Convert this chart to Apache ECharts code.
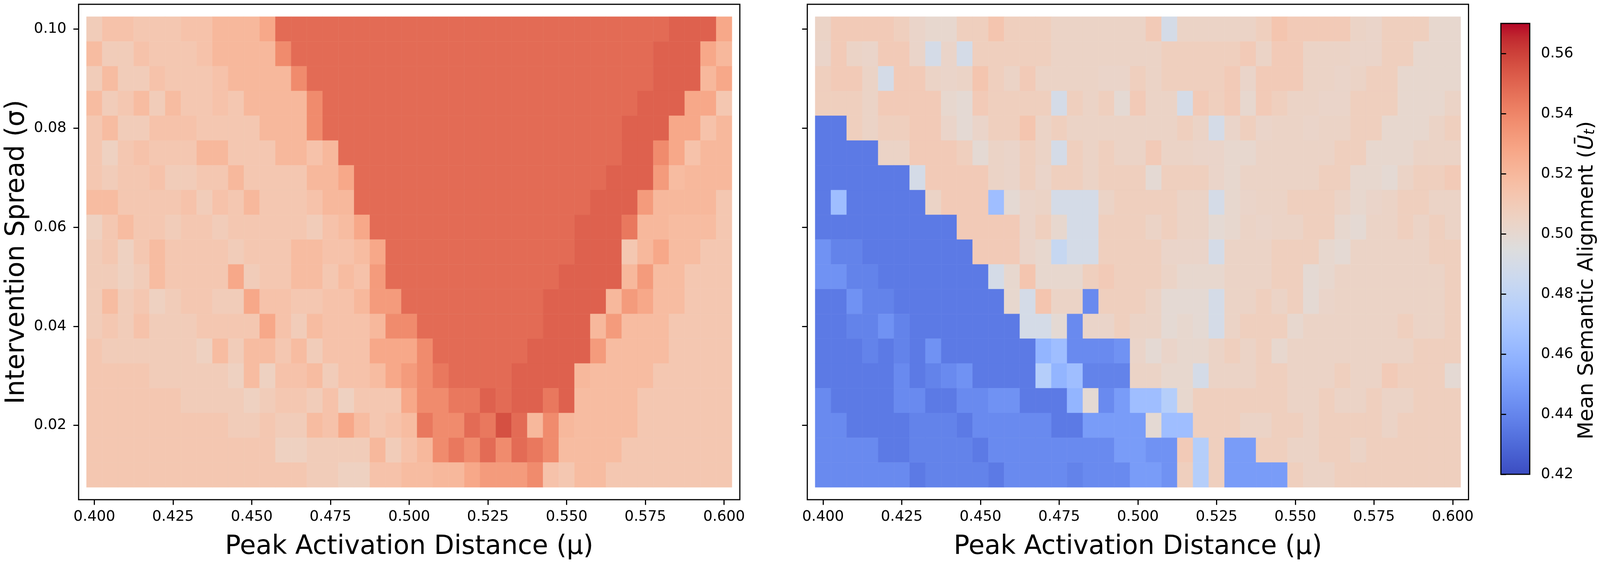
<!DOCTYPE html>
<html>
<head>
    <meta charset="UTF-8">
    <title>Mean Semantic Alignment</title>
    <script type="text/javascript" src="https://cdn.jsdelivr.net/npm/echarts@6/dist/echarts.min.js"></script>
    <style>html, body { margin: 0; padding: 0; background: #ffffff; overflow: hidden; }</style>
</head>
<body>
    <div id="alignment_chart" style="width:100vw; height:100vh;"></div>
    <script>
        // Peak activation distance (columns) and intervention spread (rows, listed top to bottom)
        var muValues = [0.400, 0.405, 0.410, 0.415, 0.420, 0.425, 0.430, 0.435, 0.440, 0.445, 0.450,
            0.455, 0.460, 0.465, 0.470, 0.475, 0.480, 0.485, 0.490, 0.495, 0.500,
            0.505, 0.510, 0.515, 0.520, 0.525, 0.530, 0.535, 0.540, 0.545, 0.550,
            0.555, 0.560, 0.565, 0.570, 0.575, 0.580, 0.585, 0.590, 0.595, 0.600];
        var sigmaValues = [0.100, 0.095, 0.090, 0.085, 0.080, 0.075, 0.070, 0.065, 0.060, 0.055,
            0.050, 0.045, 0.040, 0.035, 0.030, 0.025, 0.020, 0.015, 0.010];

        var muTicks = [0.400, 0.425, 0.450, 0.475, 0.500, 0.525, 0.550, 0.575, 0.600];
        var sigmaTicks = [0.02, 0.04, 0.06, 0.08, 0.10];
        var colorbarTicks = [0.42, 0.44, 0.46, 0.48, 0.50, 0.52, 0.54, 0.56];

        // left panel, one row per sigma (0.100 at top)
        var leftAlignment = [
            [.509,.515,.515,.512,.512,.512,.515,.515,.520,.520,.520,.527,.548,.548, .548,.548,.548,.548,.548,.548,.548,.548,.548,.548,.548,.548,.548,.548, .548,.548,.548,.548,.548,.548,.548,.548,.548,.551,.551,.551,.527],
            [.518,.509,.509,.515,.512,.512,.512,.515,.520,.520,.520,.520,.538,.548, .548,.548,.548,.548,.548,.548,.548,.548,.548,.548,.548,.548,.548,.548, .548,.548,.548,.548,.548,.548,.548,.548,.551,.551,.551,.527,.520],
            [.509,.518,.509,.509,.515,.512,.512,.512,.515,.520,.520,.520,.520,.538, .548,.548,.548,.548,.548,.548,.548,.548,.548,.548,.548,.548,.548,.548, .548,.548,.548,.548,.548,.548,.548,.548,.551,.551,.551,.520,.527],
            [.518,.509,.512,.518,.509,.518,.512,.512,.515,.512,.520,.520,.520,.520, .538,.548,.548,.548,.548,.548,.548,.548,.548,.548,.548,.548,.548,.548, .548,.548,.548,.548,.548,.548,.548,.551,.551,.551,.527,.527,.512],
            [.512,.518,.509,.509,.515,.515,.515,.512,.512,.512,.512,.520,.520,.520, .538,.548,.548,.548,.548,.548,.548,.548,.548,.548,.548,.548,.548,.548, .548,.548,.548,.548,.548,.548,.551,.551,.551,.527,.527,.515,.520],
            [.512,.506,.512,.515,.512,.512,.512,.520,.520,.512,.512,.512,.520,.520, .515,.520,.548,.548,.548,.548,.548,.548,.548,.548,.548,.548,.548,.548, .548,.548,.548,.548,.548,.548,.551,.551,.538,.527,.515,.520,.520],
            [.512,.509,.512,.512,.515,.509,.509,.512,.512,.520,.512,.512,.512,.512, .520,.520,.527,.548,.548,.548,.548,.548,.548,.548,.548,.548,.548,.548, .548,.548,.548,.548,.548,.551,.551,.551,.532,.518,.520,.520,.520],
            [.518,.518,.512,.512,.512,.512,.515,.509,.515,.512,.520,.512,.512,.512, .515,.520,.520,.548,.548,.548,.548,.548,.548,.548,.548,.548,.548,.548, .548,.548,.548,.548,.551,.551,.551,.532,.520,.520,.520,.520,.512],
            [.506,.512,.518,.512,.512,.509,.512,.512,.509,.512,.512,.512,.512,.512, .509,.515,.518,.527,.548,.548,.548,.548,.548,.548,.548,.548,.548,.548, .548,.548,.548,.551,.551,.551,.544,.520,.520,.518,.518,.518,.512],
            [.509,.512,.506,.512,.518,.512,.512,.512,.512,.509,.512,.512,.512,.518, .518,.515,.515,.518,.527,.548,.548,.548,.548,.548,.548,.548,.548,.548, .548,.548,.548,.551,.551,.551,.512,.520,.527,.518,.518,.512,.512],
            [.509,.509,.506,.509,.518,.512,.512,.512,.512,.527,.509,.512,.512,.518, .518,.512,.518,.515,.532,.548,.548,.548,.548,.548,.548,.548,.548,.548, .548,.548,.551,.551,.551,.551,.520,.532,.518,.518,.512,.512,.512],
            [.509,.518,.509,.512,.506,.509,.512,.512,.509,.509,.527,.515,.515,.512, .512,.515,.515,.520,.532,.532,.548,.548,.548,.548,.548,.548,.548,.548, .548,.551,.551,.551,.551,.520,.532,.527,.518,.518,.512,.512,.512],
            [.509,.512,.509,.515,.509,.509,.509,.512,.512,.512,.512,.527,.515,.509, .518,.515,.515,.515,.520,.538,.538,.548,.548,.548,.548,.548,.548,.548, .548,.551,.551,.551,.520,.532,.518,.518,.518,.512,.512,.512,.512],
            [.512,.509,.509,.509,.509,.509,.509,.506,.518,.509,.518,.518,.512,.518, .509,.515,.515,.515,.527,.527,.527,.538,.548,.548,.548,.548,.548,.548, .551,.551,.551,.551,.532,.518,.518,.518,.518,.512,.512,.512,.512],
            [.512,.512,.512,.512,.509,.509,.509,.509,.509,.506,.518,.506,.515,.515, .518,.509,.515,.515,.518,.527,.532,.538,.544,.548,.548,.548,.548,.551, .551,.551,.551,.520,.518,.518,.518,.518,.512,.512,.512,.512,.512],
            [.512,.512,.512,.512,.512,.512,.509,.509,.509,.509,.506,.509,.512,.512, .509,.515,.506,.512,.512,.512,.527,.538,.538,.544,.544,.551,.548,.551, .551,.544,.551,.518,.518,.518,.518,.512,.512,.512,.512,.512,.512],
            [.512,.512,.512,.512,.512,.512,.512,.512,.512,.509,.509,.512,.509,.509, .518,.515,.527,.518,.512,.515,.518,.544,.538,.538,.548,.544,.556,.548, .520,.538,.520,.518,.518,.518,.518,.512,.512,.512,.512,.512,.512],
            [.512,.512,.512,.512,.512,.512,.512,.512,.512,.512,.512,.512,.506,.506, .509,.509,.509,.509,.520,.509,.515,.520,.538,.544,.538,.548,.538,.548, .544,.538,.518,.518,.518,.518,.512,.512,.512,.512,.512,.512,.512],
            [.512,.512,.512,.512,.512,.512,.512,.512,.512,.512,.512,.512,.512,.512, .509,.509,.506,.506,.515,.515,.518,.518,.520,.520,.527,.532,.532,.532, .538,.515,.512,.518,.518,.512,.512,.512,.512,.512,.512,.512,.512]
        ];

        // right panel, one row per sigma (0.100 at top)
        var rightAlignment = [
            [.504,.510,.510,.510,.510,.507,.503,.501,.501,.507,.507,.513,.507,.507, .507,.504,.504,.504,.504,.504,.504,.510,.490,.504,.504,.504,.504,.504, .507,.513,.510,.510,.510,.510,.504,.503,.507,.507,.507,.501,.501],
            [.503,.510,.504,.503,.510,.510,.503,.490,.503,.490,.507,.507,.507,.507, .507,.504,.504,.504,.504,.504,.504,.504,.507,.507,.507,.507,.507,.510, .504,.510,.510,.504,.504,.504,.503,.503,.507,.507,.501,.501,.501],
            [.507,.510,.510,.504,.490,.510,.510,.504,.503,.504,.513,.507,.504,.510, .504,.504,.504,.504,.503,.503,.507,.504,.507,.507,.507,.507,.510,.503, .510,.510,.510,.504,.504,.503,.504,.507,.507,.501,.501,.501,.501],
            [.507,.507,.507,.504,.510,.510,.510,.510,.501,.499,.510,.507,.507,.507, .507,.490,.507,.504,.507,.499,.510,.504,.504,.490,.510,.507,.510,.501, .510,.507,.504,.504,.503,.503,.507,.507,.507,.501,.501,.501,.504],
            [.436,.436,.507,.504,.507,.507,.510,.510,.503,.499,.503,.507,.507,.513, .504,.507,.504,.504,.504,.504,.504,.504,.504,.507,.504,.490,.503,.507, .503,.504,.504,.503,.504,.504,.507,.507,.501,.501,.501,.504,.507],
            [.436,.436,.436,.436,.504,.504,.510,.510,.510,.507,.499,.504,.503,.507, .504,.490,.507,.504,.507,.504,.504,.510,.504,.504,.503,.503,.501,.501, .504,.504,.504,.504,.504,.507,.507,.501,.501,.501,.504,.504,.504],
            [.436,.436,.436,.436,.436,.436,.490,.510,.510,.510,.510,.504,.503,.507, .503,.507,.507,.504,.507,.507,.507,.499,.507,.507,.507,.503,.501,.504, .504,.504,.504,.504,.507,.507,.501,.501,.499,.504,.507,.507,.510],
            [.436,.465,.436,.436,.436,.436,.436,.504,.510,.510,.510,.465,.499,.503, .504,.490,.490,.490,.504,.507,.507,.507,.507,.504,.504,.490,.501,.503, .504,.504,.507,.507,.507,.504,.501,.503,.504,.507,.507,.504,.504],
            [.436,.436,.436,.436,.436,.436,.436,.436,.436,.510,.510,.510,.510,.503, .507,.501,.490,.490,.507,.507,.507,.504,.507,.504,.504,.499,.501,.504, .503,.504,.504,.507,.507,.501,.499,.504,.504,.507,.504,.507,.504],
            [.445,.439,.439,.436,.436,.436,.436,.436,.436,.436,.510,.510,.510,.503, .501,.483,.490,.490,.507,.507,.507,.507,.503,.503,.503,.490,.504,.504, .504,.507,.507,.507,.501,.499,.504,.504,.504,.504,.504,.507,.507],
            [.445,.445,.439,.439,.436,.436,.436,.436,.436,.436,.436,.490,.501,.513, .501,.501,.501,.507,.510,.507,.507,.507,.504,.501,.501,.501,.504,.504, .504,.507,.507,.499,.501,.504,.504,.504,.504,.504,.504,.504,.507],
            [.436,.436,.445,.439,.439,.436,.436,.436,.436,.436,.436,.436,.501,.490, .513,.504,.504,.442,.507,.507,.507,.504,.499,.499,.499,.490,.504,.504, .507,.504,.507,.499,.503,.504,.504,.504,.504,.504,.504,.504,.507],
            [.436,.436,.439,.439,.445,.439,.436,.436,.436,.436,.436,.436,.436,.490, .490,.499,.442,.503,.503,.507,.504,.504,.499,.501,.499,.490,.504,.507, .507,.507,.501,.504,.504,.504,.504,.504,.504,.507,.504,.504,.507],
            [.436,.436,.436,.439,.436,.439,.436,.445,.436,.436,.436,.436,.436,.436, .460,.465,.442,.442,.442,.445,.503,.499,.503,.501,.501,.504,.507,.504, .507,.501,.504,.504,.504,.504,.504,.504,.504,.504,.507,.507,.507],
            [.436,.436,.436,.436,.436,.442,.436,.439,.442,.445,.436,.436,.436,.436, .475,.460,.465,.439,.439,.439,.504,.504,.501,.501,.490,.504,.504,.504, .507,.507,.504,.504,.504,.507,.504,.504,.510,.507,.507,.507,.499],
            [.442,.436,.436,.436,.436,.442,.442,.436,.436,.442,.442,.445,.445,.436, .436,.436,.460,.499,.442,.449,.465,.465,.475,.501,.507,.507,.507,.507, .507,.507,.504,.504,.507,.504,.504,.507,.504,.504,.507,.507,.507],
            [.442,.442,.436,.436,.436,.436,.439,.439,.439,.436,.442,.442,.442,.442, .442,.436,.436,.449,.449,.449,.449,.499,.465,.465,.507,.507,.507,.504, .504,.507,.507,.504,.507,.507,.507,.507,.504,.507,.507,.507,.507],
            [.442,.442,.442,.442,.436,.436,.439,.439,.439,.439,.436,.442,.442,.442, .442,.442,.442,.442,.442,.449,.449,.445,.445,.510,.475,.507,.449,.449, .507,.507,.504,.504,.507,.507,.504,.507,.507,.507,.507,.507,.507],
            [.442,.442,.442,.442,.442,.442,.436,.439,.439,.439,.439,.436,.442,.442, .442,.442,.439,.442,.442,.442,.449,.449,.445,.507,.475,.507,.449,.449, .449,.449,.507,.504,.504,.507,.507,.507,.507,.507,.507,.507,.507]
        ];

        // matplotlib coolwarm, sampled at 33 even stops
        var coolwarm = ['#3b4cc0', '#445acc', '#4d68d7', '#5775e1', '#6282ea', '#6c8ef1', '#779af7', '#82a5fb',
            '#8db0fe', '#98b9ff', '#a3c2ff', '#aec9fd', '#b8d0f9', '#c2d5f4', '#ccd9ee', '#d5dbe6',
            '#dddddd', '#e5d8d1', '#ecd3c5', '#f1ccb9', '#f5c4ad', '#f7bba0', '#f7b194', '#f7a687',
            '#f49a7b', '#f18d6f', '#ec7f63', '#e57058', '#de604d', '#d55042', '#cb3e38', '#c0282f', '#b40426'];

        var vMin = 0.42, vMax = 0.57;
        var halfMu = (muValues[1] - muValues[0]) / 2;
        var halfSigma = (sigmaValues[0] - sigmaValues[1]) / 2;

        var el = document.getElementById('alignment_chart');
        // layout was measured on a 4600x1455 figure; scale to whatever the page really is
        var sx = el.clientWidth / 4600, sy = el.clientHeight / 1455;
        var sf = Math.min(sx, sy);
        function px(v) { return v * sx; }
        function py(v) { return v * sy; }
        function pf(v) { return v * sf; }

        function toCells(rows) {
            var cells = [];
            rows.forEach(function (row, r) {
                row.forEach(function (v, c) {
                    cells.push([muValues[c], sigmaValues[r], v]);
                });
            });
            return cells;
        }

        function renderCell(params, api) {
            var x = api.value(0), y = api.value(1);
            var p0 = api.coord([x - halfMu, y + halfSigma]);
            var p1 = api.coord([x + halfMu, y - halfSigma]);
            var color = api.visual('color');
            return {
                type: 'rect',
                shape: {x: p0[0], y: p0[1], width: p1[0] - p0[0], height: p1[1] - p0[1]},
                style: {fill: color, stroke: color, lineWidth: 0.6}
            };
        }

        var FONT = 'DejaVu Sans';
        function tickStyle(values) {
            return {show: true, customValues: values, length: pf(15), lineStyle: {color: '#000', width: pf(3.3)}};
        }

        function muAxis(gridIndex) {
            return {
                type: 'value', gridIndex: gridIndex, min: 0.395, max: 0.605,
                axisLine: {show: false},
                splitLine: {show: false},
                axisTick: tickStyle(muTicks),
                axisLabel: {
                    customValues: muTicks, margin: py(26), color: '#000', fontFamily: FONT, fontSize: pf(42),
                    formatter: function (v) { return v.toFixed(3); }
                },
                name: 'Peak Activation Distance (μ)', nameLocation: 'middle', nameGap: py(88),
                nameTextStyle: {color: '#000', fontFamily: FONT, fontSize: pf(75)}
            };
        }

        function sigmaAxis(gridIndex, withLabels) {
            return {
                type: 'value', gridIndex: gridIndex, min: 0.005, max: 0.105,
                axisLine: {show: false},
                splitLine: {show: false},
                axisTick: tickStyle(sigmaTicks),
                axisLabel: {
                    show: withLabels, customValues: sigmaTicks, margin: px(35), color: '#000',
                    fontFamily: FONT, fontSize: pf(42),
                    formatter: function (v) { return v.toFixed(2); }
                },
                name: withLabels ? 'Intervention Spread (σ)' : '', nameLocation: 'middle', nameGap: px(139),
                nameTextStyle: {color: '#000', fontFamily: FONT, fontSize: pf(75)}
            };
        }

        var chart = echarts.init(el, null, {renderer: 'canvas'});

        var barStops = coolwarm.map(function (c, i) {
            return {offset: i / (coolwarm.length - 1), color: c};
        });

        function frame(left, top, width, height) {
            return {show: true, left: px(left), top: py(top), width: px(width), height: py(height),
                borderColor: '#000', borderWidth: pf(3.3), backgroundColor: 'transparent'};
        }

        var colorbarGrid = frame(4315, 60, 83, 1155);
        colorbarGrid.backgroundColor = new echarts.graphic.LinearGradient(0, 1, 0, 0, barStops);

        var option = {
            animation: false,
            backgroundColor: '#ffffff',
            grid: [
                frame(226, 11, 1901, 1269),
                frame(2321, 11, 1901, 1269),
                colorbarGrid
            ],
            xAxis: [
                muAxis(0),
                muAxis(1),
                {type: 'value', gridIndex: 2, min: 0, max: 1, show: false}
            ],
            yAxis: [
                sigmaAxis(0, true),
                sigmaAxis(1, false),
                {
                    type: 'value', gridIndex: 2, min: vMin, max: vMax, position: 'right',
                    axisLine: {show: false},
                    splitLine: {show: false},
                    axisTick: tickStyle(colorbarTicks),
                    axisLabel: {
                        customValues: colorbarTicks, margin: px(32), color: '#000', fontFamily: FONT, fontSize: pf(42),
                        formatter: function (v) { return v.toFixed(2); }
                    }
                }
            ],
            // colorbar label, rotated to read bottom to top
            graphic: [{
                type: 'text', x: px(4563), y: py(718), rotation: Math.PI / 2, silent: true,
                style: {
                    text: 'Mean Semantic Alignment ({u|Ū}{sub|t})',
                    fontFamily: FONT, fontSize: pf(60), fill: '#000',
                    align: 'center', verticalAlign: 'middle',
                    rich: {
                        u: {fontFamily: FONT, fontSize: pf(60), fontStyle: 'italic', fill: '#000'},
                        sub: {fontFamily: FONT, fontSize: pf(41), fontStyle: 'italic', fill: '#000',
                            padding: [pf(20), 0, 0, 0]}
                    }
                }
            }],
            visualMap: {
                show: false, type: 'continuous', min: vMin, max: vMax, dimension: 2,
                seriesIndex: [0, 1],
                inRange: {color: coolwarm}
            },
            series: [
                {
                    type: 'custom', name: 'left', xAxisIndex: 0, yAxisIndex: 0,
                    renderItem: renderCell, encode: {x: 0, y: 1},
                    data: toCells(leftAlignment)
                },
                {
                    type: 'custom', name: 'right', xAxisIndex: 1, yAxisIndex: 1,
                    renderItem: renderCell, encode: {x: 0, y: 1},
                    data: toCells(rightAlignment)
                }
            ]
        };
        chart.setOption(option);
    </script>
</body>
</html>
